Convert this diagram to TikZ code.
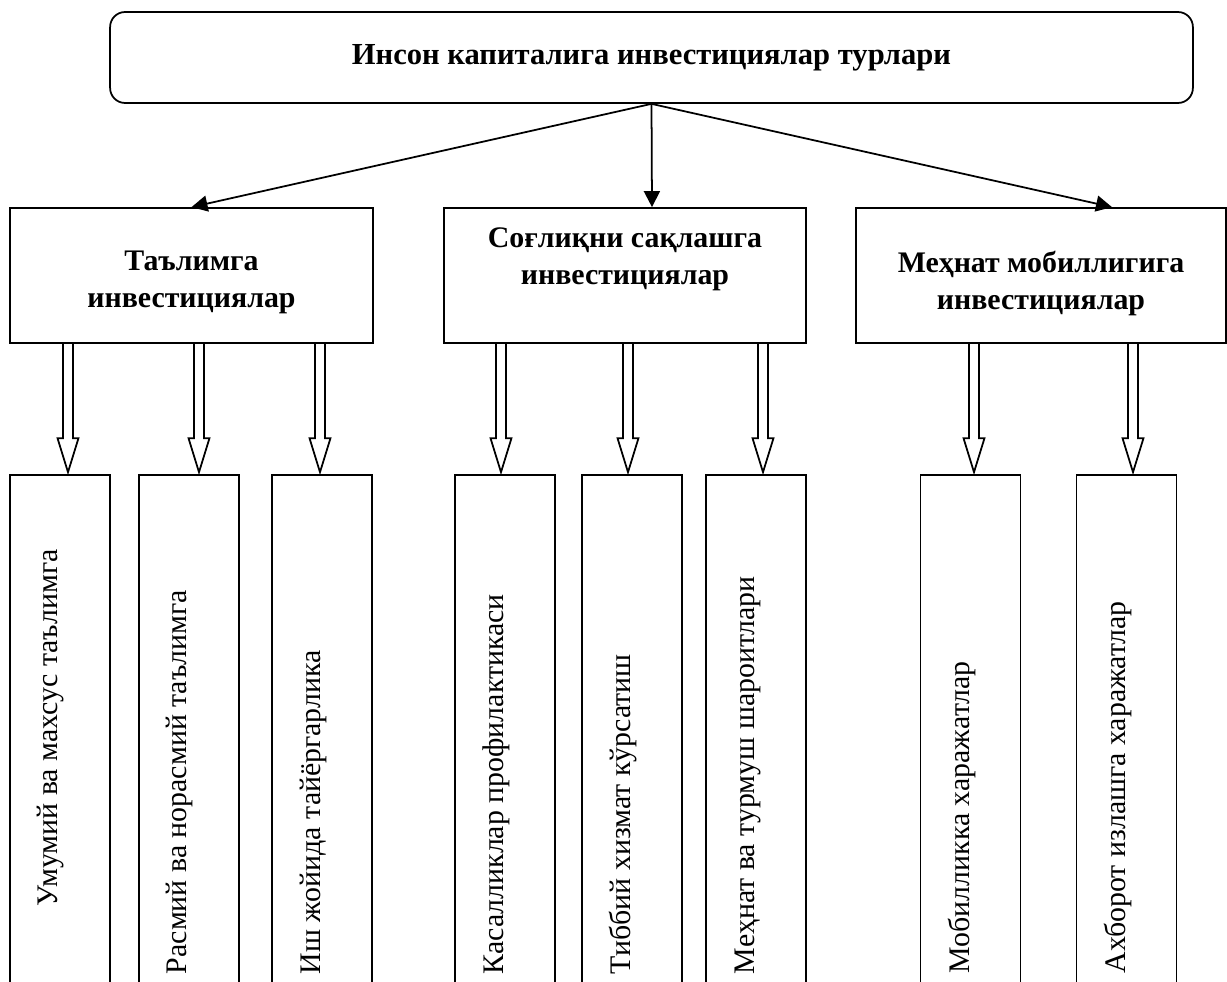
\documentclass[tikz,border=0pt]{standalone}
\usepackage{fontspec}
\setmainfont{Liberation Serif}
\usetikzlibrary{positioning,calc,arrows.meta}

\begin{document}
\begin{tikzpicture}[x=0.02cm, y=-0.02cm, line width=1pt,
    box/.style={draw, rectangle, inner sep=0pt},
    boxtext/.style={inner sep=0pt, align=center, font=\bfseries\fontsize{17}{21}\selectfont},
    leaf/.style={draw, rectangle, minimum width=2cm, minimum height=10.5cm, inner sep=0pt},
    leaftext/.style={rotate=90, anchor=base west, inner sep=0pt, font=\fontsize{17}{20}\selectfont},
    thin arrow/.style={-{Triangle[length=0.32cm,width=0.32cm]}},
    hollow/.style={to path={let \p1=(\tikztostart), \p2=(\tikztotarget) in
      (\x2-0.1cm,\y1) -- (\x2-0.1cm,\y2+0.68cm) -- (\x2-0.21cm,\y2+0.68cm) -- (\x2,\y2)
      -- (\x2+0.21cm,\y2+0.68cm) -- (\x2+0.1cm,\y2+0.68cm) -- (\x2+0.1cm,\y1)}}]
  \useasboundingbox (0,0) rectangle (1227,982);
  \clip (0,0) rectangle (1227,982);

  % top
  \node[box, boxtext, draw, rounded corners=0.3cm, minimum width=21.66cm, minimum height=1.82cm,
    font=\bfseries\fontsize{17.4}{21}\selectfont] (top) at (651.5,57.5)
    {Инсон капиталига инвестициялар турлари};

  % three kinds
  \node[box, minimum width=7.26cm, minimum height=2.7cm] (edu) at (191.5,275.5) {};
  \node[box, minimum width=7.24cm, minimum height=2.7cm] (health) at (625,275.5) {};
  \node[box, minimum width=7.4cm, minimum height=2.7cm] (labour) at (1041,275.5) {};
  \node[boxtext, below=0.86cm of edu.north] (edutext) {Таълимга\\инвестициялар};
  \node[boxtext, below=0.4cm of health.north] (healthtext) {Соғлиқни сақлашга\\инвестициялар};
  \node[boxtext, below=0.86cm of labour.north] (labourtext) {Меҳнат мобиллигига\\инвестициялар};

  \draw[thin arrow] (top.south) -- (edu.north);
  \draw[thin arrow] (top.south) -- ([xshift=0.54cm]health.north);
  \draw[thin arrow] (top.south) -- ([xshift=1.42cm]labour.north);

  % leaves
  \foreach \name/\x in {ed1/60, ed2/189, ed3/322, he1/505, he2/632, he3/756, la1/970.5, la2/1126.5}
    \node[leaf] (\name) at (\x,737.5) {};

  \node[leaftext] (ed1t) at (57,907) {Умумий ва махсус таълимга};
  \node[leaftext] (ed2t) at (186,975) {Расмий ва норасмий таълимга};
  \node[leaftext] (ed3t) at (320,975) {Иш жойида тайёргарлика};
  \node[leaftext] (he1t) at (503,975) {Касалликлар профилактикаси};
  \node[leaftext] (he2t) at (630,975) {Тиббий хизмат кўрсатиш};
  \node[leaftext] (he3t) at (754,975) {Меҳнат ва турмуш шароитлари};
  \node[leaftext] (la1t) at (969,974) {Мобилликка харажатлар};
  \node[leaftext] (la2t) at (1125,974) {Ахборот излашга харажатлар};

  \foreach \from/\to/\dx in {edu/ed1/8, edu/ed2/10, edu/ed3/-2, health/he1/-4, health/he2/-4,
      health/he3/7, labour/la1/3.5, labour/la2/6.5}
    \draw[hollow] (\from.south) to ([xshift=\dx*0.02cm, yshift=0.04cm]\to.north);
\end{tikzpicture}
\end{document}
